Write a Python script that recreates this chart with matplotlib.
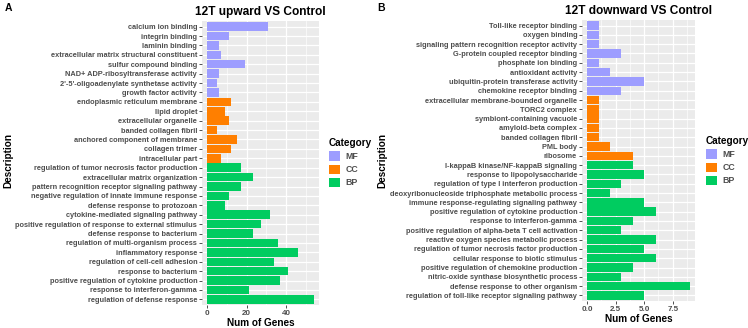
import matplotlib.pyplot as plt
from matplotlib.patches import Patch

plt.rcParams['font.family'] = ['Liberation Sans', 'DejaVu Sans']

W, H = 748, 328

COLORS = {'MF': '#9D9DFF', 'CC': '#FF7F00', 'BP': '#00CC60'}
CATEGORIES = ['MF', 'CC', 'BP']

# panel A: 12T upward VS Control (top to bottom)
up_terms = [
    'calcium ion binding', 'integrin binding', 'laminin binding',
    'extracellular matrix structural constituent', 'sulfur compound binding',
    'NAD+ ADP-ribosyltransferase activity',
    "2'-5'-oligoadenylate synthetase activity", 'growth factor activity',
    'endoplasmic reticulum membrane', 'lipid droplet', 'extracellular organelle',
    'banded collagen fibril', 'anchored component of membrane',
    'collagen trimer', 'intracellular part',
    'regulation of tumor necrosis factor production',
    'extracellular matrix organization',
    'pattern recognition receptor signaling pathway',
    'negative regulation of innate immune response',
    'defense response to protozoan', 'cytokine-mediated signaling pathway',
    'positive regulation of response to external stimulus',
    'defense response to bacterium', 'regulation of multi-organism process',
    'inflammatory response', 'regulation of cell-cell adhesion',
    'response to bacterium', 'positive regulation of cytokine production',
    'response to interferon-gamma', 'regulation of defense response',
]
up_counts = [31, 11, 6, 7, 19, 6, 5, 6,
             12, 9, 11, 5, 15, 12, 7,
             17, 23, 17, 11, 9, 32, 27, 23, 36, 46, 34, 41, 37, 21, 54]
up_cats = ['MF'] * 8 + ['CC'] * 7 + ['BP'] * 15

# panel B: 12T downward VS Control (top to bottom)
down_terms = [
    'Toll-like receptor binding', 'oxygen binding',
    'signaling pattern recognition receptor activity',
    'G-protein coupled receptor binding', 'phosphate ion binding',
    'antioxidant activity', 'ubiquitin-protein transferase activity',
    'chemokine receptor binding',
    'extracellular membrane-bounded organelle', 'TORC2 complex',
    'symbiont-containing vacuole', 'amyloid-beta complex',
    'banded collagen fibril', 'PML body', 'ribosome',
    'I-kappaB kinase/NF-kappaB signaling', 'response to lipopolysaccharide',
    'regulation of type I interferon production',
    'deoxyribonucleoside triphosphate metabolic process',
    'immune response-regulating signaling pathway',
    'positive regulation of cytokine production',
    'response to interferon-gamma',
    'positive regulation of alpha-beta T cell activation',
    'reactive oxygen species metabolic process',
    'regulation of tumor necrosis factor production',
    'cellular response to biotic stimulus',
    'positive regulation of chemokine production',
    'nitric-oxide synthase biosynthetic process',
    'defense response to other organism',
    'regulation of toll-like receptor signaling pathway',
]
down_counts = [1, 1, 1, 3, 1, 2, 5, 3,
               1, 1, 1, 1, 1, 2, 4,
               4, 5, 3, 2, 5, 6, 4, 3, 6, 5, 6, 4, 3, 9, 5]
down_cats = ['MF'] * 8 + ['CC'] * 7 + ['BP'] * 15


def px_axes(fig, left, top, right, bottom):
    return fig.add_axes([left / W, 1 - bottom / H, (right - left) / W,
                         (bottom - top) / H])


def draw_panel(fig, box, terms, counts, cats, title, xlim, major, minor,
               ticklabels):
    ax = px_axes(fig, *box)
    ax.set_facecolor('#EBEBEB')
    ypos = list(range(len(terms)))[::-1]
    ax.barh(ypos, counts, height=0.9,
            color=[COLORS[c] for c in cats], zorder=3)
    ax.set_yticks(ypos)
    ax.set_yticklabels(terms)
    ax.set_ylim(-0.6, len(terms) - 0.4)
    ax.set_xlim(*xlim)
    ax.set_xticks(major)
    ax.set_xticklabels(ticklabels)
    ax.set_xticks(minor, minor=True)
    ax.grid(True, which='major', color='white', linewidth=0.9, zorder=0)
    ax.grid(True, which='minor', axis='x', color='white', linewidth=0.45,
            zorder=0)
    ax.set_axisbelow(True)
    for s in ax.spines.values():
        s.set_visible(False)
    ax.tick_params(axis='both', which='major', length=2, width=0.6,
                   color='#333333', labelcolor='#4D4D4D', labelsize=5.3,
                   pad=1.5)
    for lab in ax.get_xticklabels() + ax.get_yticklabels():
        lab.set_fontweight('bold')
    ax.tick_params(axis='x', which='major', labelsize=5.8)
    ax.tick_params(axis='x', which='minor', length=0)
    ax.set_xlabel('Num of Genes', fontsize=7.2, fontweight='bold',
                  labelpad=0.5)
    ax.set_title(title, fontsize=8.6, fontweight='bold', pad=4)
    return ax


fig = plt.figure(figsize=(W / 100, H / 100), dpi=100)

draw_panel(fig, (202, 21, 319, 305), up_terms, up_counts, up_cats,
           '12T upward VS Control', (-2.7, 56.7), [0, 20, 40], [10, 30, 50],
           ['0', '20', '40'])
draw_panel(fig, (582, 20, 695, 301), down_terms, down_counts, down_cats,
           '12T downward VS Control', (-0.45, 9.45), [0, 2.5, 5, 7.5],
           [1.25, 3.75, 6.25, 8.75], ['0.0', '2.5', '5.0', '7.5'])

fig.text(5 / W, 1 - 8 / H, 'A', fontsize=7.5, fontweight='bold',
         va='center')
fig.text(377 / W, 1 - 8 / H, 'B', fontsize=7.5, fontweight='bold',
         va='center')
fig.text(8 / W, 1 - 160 / H, 'Description', rotation=90, fontsize=7.2,
         fontweight='bold', ha='center', va='center')
fig.text(382 / W, 1 - 160 / H, 'Description', rotation=90, fontsize=7.2,
         fontweight='bold', ha='center', va='center')

handles = [Patch(facecolor=COLORS[c], edgecolor='none', label=c)
           for c in CATEGORIES]
for x0, y0 in [(329, 138), (706, 136)]:
    leg = fig.legend(handles=handles, title='Category', loc='upper left',
                     bbox_to_anchor=(x0 / W, 1 - y0 / H), frameon=False,
                     handlelength=1.25, handleheight=1.25, handletextpad=0.6,
                     labelspacing=0.4, borderaxespad=0, borderpad=0.0,
                     prop={'size': 6.3, 'weight': 'bold'})
    leg.get_title().set_fontsize(7.2)
    leg.get_title().set_fontweight('bold')
    leg._legend_box.align = 'left'
    for t in leg.get_texts():
        t.set_color('#4D4D4D')

fig.savefig('out.png', dpi=100)
